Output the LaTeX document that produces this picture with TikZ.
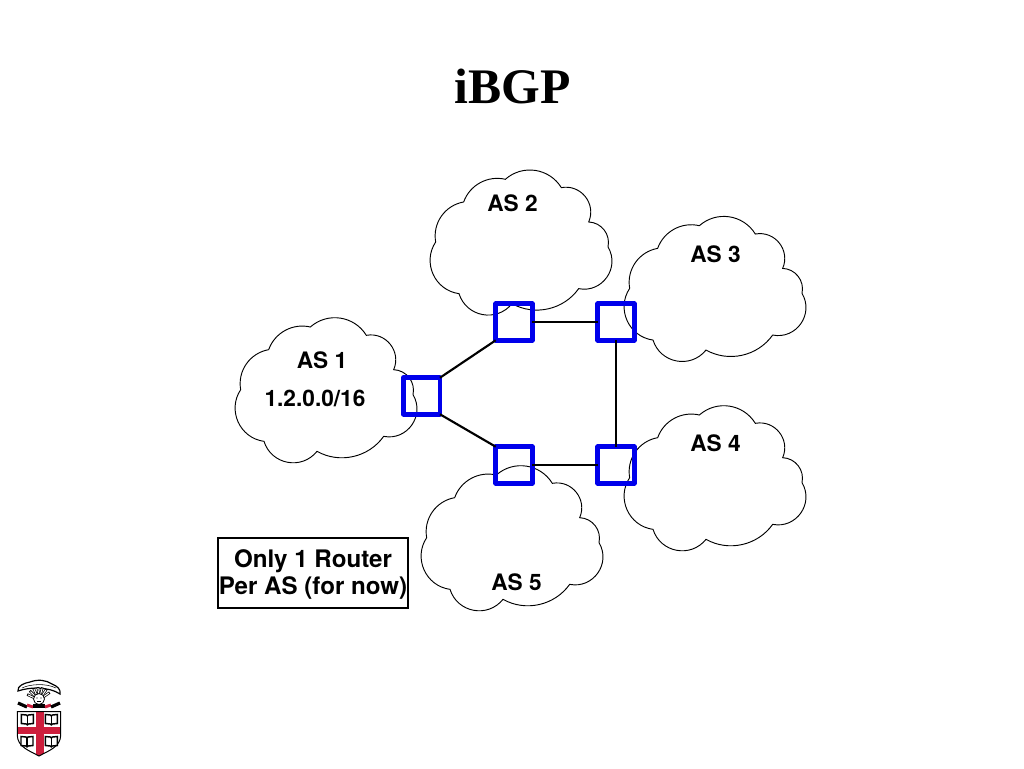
\documentclass[tikz,border=0pt]{standalone}
\usepackage{fontspec}
\setmainfont{TeX Gyre Heros}
\newfontfamily\serifbold{Liberation Serif}
\definecolor{routerblue}{RGB}{0,0,235}
\definecolor{brownred}{RGB}{205,30,60}
\tikzset{
  cloudline/.style={draw=black,line width=0.7pt},
  router/.style={draw=routerblue,line width=3.4pt,minimum size=27.4pt,inner sep=0pt,outer sep=0pt,line join=round},
  linkline/.style={draw=black,line width=1.6pt},
  aslabel/.style={font=\fontsize{17}{20}\selectfont\bfseries,inner sep=0pt},
  notebox/.style={draw=black,line width=1.5pt,minimum width=142.5pt,minimum height=52pt,inner sep=0pt,align=center,font=\fontsize{18.1}{20.2}\selectfont\bfseries},
  titletext/.style={font=\fontsize{37.3}{40}\serifbold\selectfont\bfseries,inner sep=0pt},
  bookline/.style={draw=black,line width=1.1pt,fill=white}
}
\newcommand{\cloudat}[2]{%
  \begin{scope}[shift={(#1,#2)},x=0.25pt,y=-0.25pt]
  \draw[cloudline] (-193,98)
    to[bend left=42,looseness=0.97] (-68,30)
    to[bend left=50,looseness=1.04] (100,55)
    to[bend left=62,looseness=1.16] (182,158)
    to[bend left=50,looseness=1.04] (240,233)
    to[bend left=66,looseness=1.21] (152,358)
    to[bend left=42,looseness=0.97] (-48,403)
    to[bend left=62,looseness=1.16] (-207,373)
    to[bend left=58,looseness=1.11] (-277,218)
    to[bend left=45,looseness=1] (-193,98);
  \end{scope}}
\newcommand{\bookat}[2]{%
  \begin{scope}[shift={(#1,#2)}]
  \draw[bookline] (-6,-5) -- (-1,-4.5) -- (0,-3.5) -- (1,-4.5) -- (6,-5) -- (6,4) -- (1,4.5) -- (0,5.4) -- (-1,4.5) -- (-6,4) -- cycle;
  \draw[bookline] (0,-3.5) -- (0,5.4);
  \end{scope}}
\begin{document}
\begin{tikzpicture}[x=0.75pt,y=-0.75pt]
\useasboundingbox (0,0) rectangle (1024,768);
\node[titletext] (title) at (512.5,86.5) {iBGP};
\cloudat{528}{169.3}
\cloudat{722}{215.7}
\cloudat{333}{317}
\cloudat{722}{405}
\cloudat{519}{465}
\node[aslabel] (as2) at (512.5,203.5) {AS 2};
\node[aslabel] (as3) at (715.5,254.5) {AS 3};
\node[aslabel] (as1) at (322,360.5) {AS 1};
\node[aslabel] (net) at (315,398) {1.2.0.0/16};
\node[aslabel] (as4) at (715.5,443.5) {AS 4};
\node[aslabel] (as5) at (516.5,582) {AS 5};
\node[router] (r1) at (421.7,396) {};
\node[router] (r2) at (514,322) {};
\node[router] (r3) at (616,322) {};
\node[router] (r4) at (616,465) {};
\node[router] (r5) at (514,465) {};
\draw[linkline] (r1.north east) -- (r2.south west);
\draw[linkline] (r2.east) -- (r3.west);
\draw[linkline] (r3.south) -- (r4.north);
\draw[linkline] (r4.west) -- (r5.east);
\draw[linkline] (r5.north west) -- (r1.south east);
\node[notebox] (note) at (313,573) {\rule{0pt}{16pt}Only 1 Router\\Per AS (for now)};
% crest: scroll of cloud
\draw[black,line width=0.9pt,fill=white] (18,691) .. controls (17,686) and (24,683) .. (30,682) .. controls (38,679) and (46,680) .. (52,684) .. controls (57,686) and (61,689) .. (60,694) .. controls (54,690) and (48,689) .. (39,688) .. controls (30,688) and (24,689) .. (18,691) -- cycle;
\draw[black,line width=0.4pt] (22,688) .. controls (30,684) and (46,683) .. (56,688);
% crest: sun and rays
\foreach \ang in {205,225,245,265,285,305,325}{
  \draw[black,line width=1.9pt] (39,700) -- +(\ang:13);
  \draw[white,line width=0.8pt] (39,700) -- +(\ang:12);
}
\draw[black,line width=0.6pt,fill=white] (39,699) circle[radius=5.5];
\fill[black] (37,698) circle[radius=0.7] (41,698) circle[radius=0.7];
\draw[black,line width=0.4pt] (37,701.5) -- (41,701.5);
% crest: wreath
\draw[black,line width=2.4pt] (18,703) -- (27,707);
\draw[brownred,line width=2.2pt] (27,705) -- (33,707);
\draw[black,line width=2.4pt] (33,706) -- (45,706);
\draw[brownred,line width=2.2pt] (45,707) -- (51,705);
\draw[black,line width=2.4pt] (51,707) -- (60,703);
% shield
\fill[white] (17.3,711.7) -- (60.7,711.7) -- (60.7,735) .. controls (60.7,747) and (48,751) .. (39,756) .. controls (30,751) and (17.3,747) .. (17.3,735) -- cycle;
\begin{scope}
  \clip (17.3,711.7) -- (60.7,711.7) -- (60.7,735) .. controls (60.7,747) and (48,751) .. (39,756) .. controls (30,751) and (17.3,747) .. (17.3,735) -- cycle;
  \fill[brownred] (36,711) rectangle (44,757);
  \fill[brownred] (17,727.3) rectangle (61,734);
\end{scope}
\draw[black,line width=0.75pt] (17.3,711.7) -- (60.7,711.7) -- (60.7,735) .. controls (60.7,747) and (48,751) .. (39,756) .. controls (30,751) and (17.3,747) .. (17.3,735) -- cycle;
\bookat{27.3}{719.5}
\bookat{51.3}{719.5}
\bookat{27}{741.5}
\bookat{51.3}{741.5}
\end{tikzpicture}
\end{document}
